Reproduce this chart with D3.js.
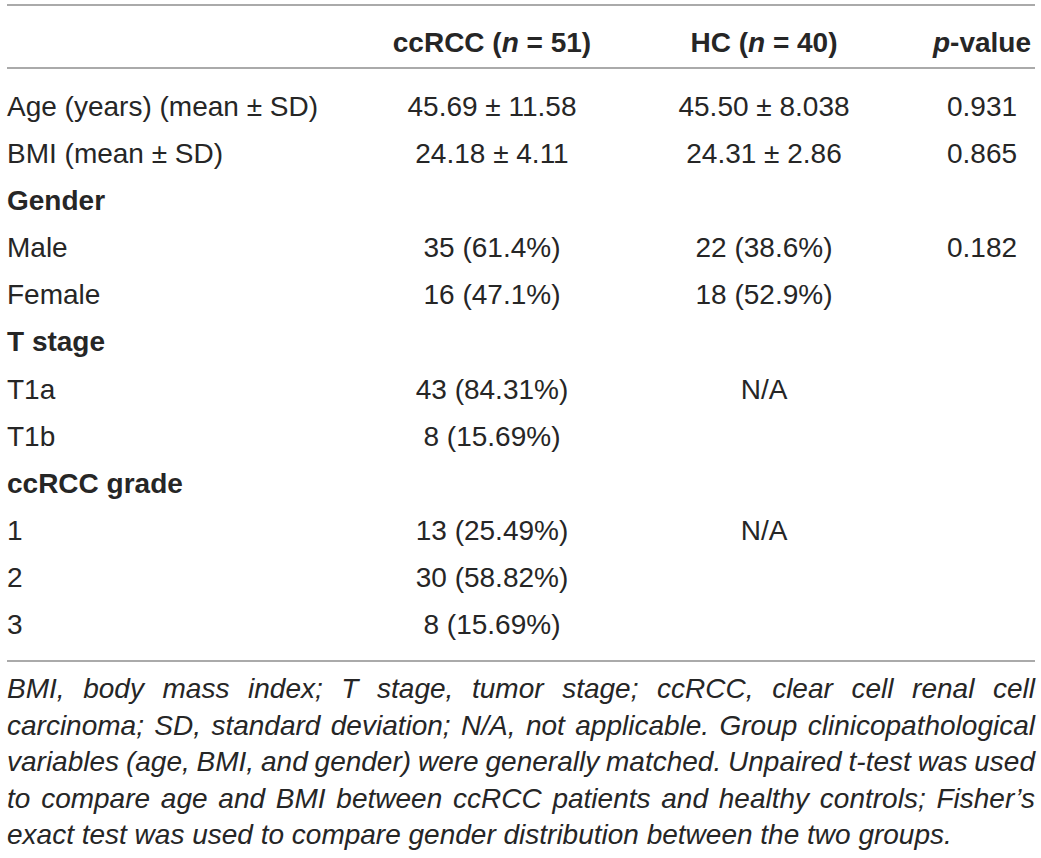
<!DOCTYPE html>
<html>
<head>
<meta charset="utf-8">
<title>Table 1</title>
<script src="https://d3js.org/d3.v7.min.js"></script>
<style>
body { margin: 0; background: #fff; }
svg text { font-family: "Liberation Sans", Arial, Helvetica, sans-serif; fill: #262626; }
</style>
</head>
<body>
<svg id="tbl" width="1041" height="858"></svg>
<script>
// table content
var rowLabels = ["Age (years) (mean \u00b1 SD)", "BMI (mean \u00b1 SD)", "Gender", "Male", "Female",
                 "T stage", "T1a", "T1b", "ccRCC grade", "1", "2", "3"];
var groupRows = ["Gender", "T stage", "ccRCC grade"];
var ccrccValues = ["45.69 \u00b1 11.58", "24.18 \u00b1 4.11", "", "35 (61.4%)", "16 (47.1%)", "",
                   "43 (84.31%)", "8 (15.69%)", "", "13 (25.49%)", "30 (58.82%)", "8 (15.69%)"];
var hcValues = ["45.50 \u00b1 8.038", "24.31 \u00b1 2.86", "", "22 (38.6%)", "18 (52.9%)", "",
                "N/A", "", "", "N/A", "", ""];
var pValues = ["0.931", "0.865", "", "0.182", "", "", "", "", "", "", "", ""];
// header cells, [text, italic?] pieces
var headerCcrcc = [["ccRCC (", false], ["n", true], [" = 51)", false]];
var headerHc = [["HC (", false], ["n", true], [" = 40)", false]];
var headerP = [["p", true], ["-value", false]];
var footLines = [
  "BMI, body mass index; T stage, tumor stage; ccRCC, clear cell renal cell",
  "carcinoma; SD, standard deviation; N/A, not applicable. Group clinicopathological",
  "variables (age, BMI, and gender) were generally matched. Unpaired t-test was used",
  "to compare age and BMI between ccRCC patients and healthy controls; Fisher\u2019s",
  "exact test was used to compare gender distribution between the two groups."
];

var svg = d3.select("#tbl");
var left = 7, right = 1035;
var fs = 28;

var col = d3.scaleOrdinal()
  .domain(["label", "ccrcc", "hc", "p"])
  .range([left, 492, 764, 982]);

var y = d3.scalePoint()
  .domain(d3.range(rowLabels.length))
  .range([116, 634]);

// rules
var rules = [5, 68, 661];
svg.selectAll("line.rule")
  .data(rules)
  .enter().append("line")
  .attr("class", "rule")
  .attr("x1", left).attr("x2", right)
  .attr("y1", function(d) { return d; })
  .attr("y2", function(d) { return d; })
  .attr("stroke", "#8e8e8e")
  .attr("stroke-width", 1.5);

// header
var heads = [["ccrcc", headerCcrcc], ["hc", headerHc], ["p", headerP]];
heads.forEach(function(h) {
  var t = svg.append("text")
    .attr("x", col(h[0]))
    .attr("y", 52)
    .attr("text-anchor", "middle")
    .attr("font-weight", "bold")
    .attr("font-size", fs);
  h[1].forEach(function(p) {
    t.append("tspan").text(p[0]).attr("font-style", p[1] ? "italic" : "normal");
  });
});

// body rows
var rows = svg.append("g").selectAll("g")
  .data(rowLabels)
  .enter().append("g");

rows.append("text")
  .attr("x", col("label"))
  .attr("y", function(d, i) { return y(i); })
  .attr("font-size", fs)
  .attr("font-weight", function(d) { return groupRows.indexOf(d) >= 0 ? "bold" : "normal"; })
  .text(function(d) { return d; });

[["ccrcc", ccrccValues], ["hc", hcValues], ["p", pValues]].forEach(function(c) {
  rows.append("text")
    .attr("x", col(c[0]))
    .attr("y", function(d, i) { return y(i); })
    .attr("text-anchor", "middle")
    .attr("font-size", fs)
    .text(function(d, i) { return c[1][i]; });
});

// footnote, justified except the last line
var footY = d3.scalePoint().domain(d3.range(footLines.length)).range([698, 844]);
var ffs = 28;
var probe = svg.append("text").attr("font-size", ffs).attr("font-style", "italic");
function wlen(s) { probe.text(s); return probe.node().getComputedTextLength(); }

footLines.forEach(function(line, li) {
  var words = line.split(" ");
  var t = svg.append("text")
    .attr("y", footY(li))
    .attr("font-size", ffs)
    .attr("font-style", "italic");
  if (li == footLines.length - 1) {
    t.attr("x", left).text(line);
    return;
  }
  var widths = words.map(wlen);
  var gap = (right - left - d3.sum(widths)) / (words.length - 1);
  if (gap < ffs * 0.2) {
    // too long for the column: squeeze the whole line
    t.attr("x", left)
      .attr("textLength", right - left)
      .attr("lengthAdjust", "spacingAndGlyphs")
      .text(line);
    return;
  }
  var x = left;
  words.forEach(function(w, k) {
    t.append("tspan").attr("x", x).text(w);
    x += widths[k] + gap;
  });
});
probe.remove();
</script>
</body>
</html>
